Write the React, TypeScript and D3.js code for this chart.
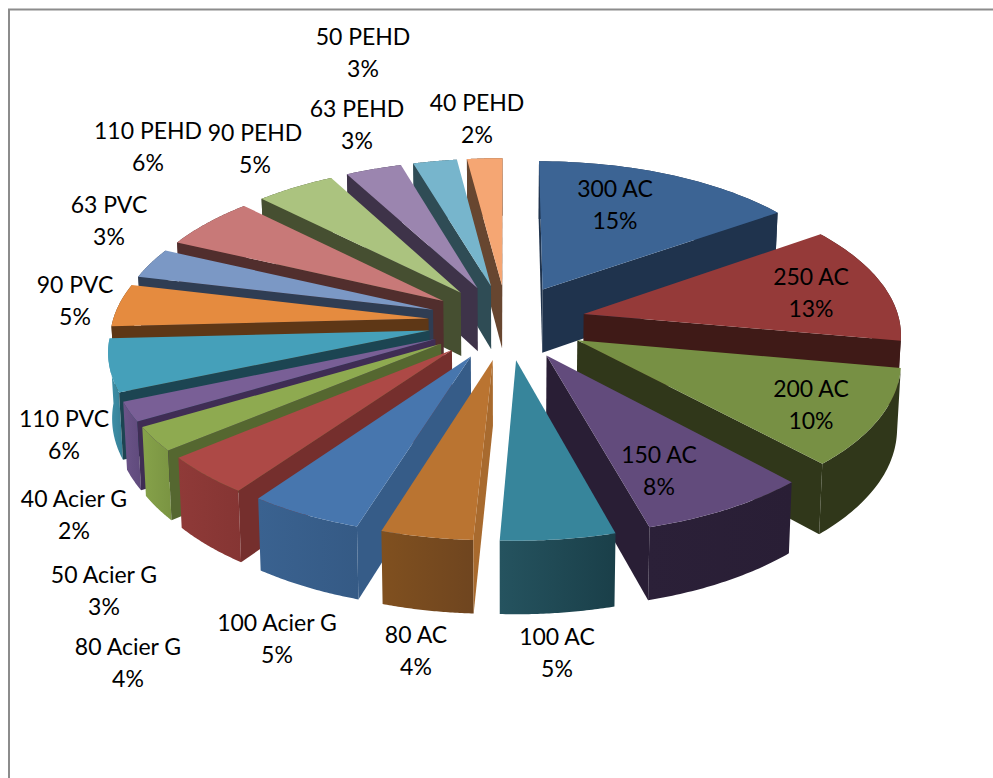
import React from "react";
import * as d3 from "d3";

// Share of each pipe type, in percent of the network length.
const categories = [
  "300 AC", "250 AC", "200 AC", "150 AC", "100 AC", "80 AC",
  "100 Acier G", "80 Acier G", "50 Acier G", "40 Acier G",
  "110 PVC", "90 PVC", "63 PVC",
  "110 PEHD", "90 PEHD", "63 PEHD", "50 PEHD", "40 PEHD",
];
const shares = [
  15.3, 12.56, 10.28, 7.61, 5.08, 4.08,
  5.06, 4.14, 2.56, 2.06,
  5.56, 4.53, 3.22,
  5.56, 4.64, 3.28, 2.56, 2.06,
];

// Face colours, one per slice.
const topColors = [
  "#3c6494", "#953a39", "#779044", "#624b7c", "#37859b", "#ba7431",
  "#4776ae", "#ad4946", "#8eaa50", "#795f96",
  "#45a0ba", "#e58b3f", "#7b98c5",
  "#c87978", "#abc37f", "#9b85af", "#77b5cc", "#f5a673",
];
const sideColors = [
  "#1f334d", "#3f1a17", "#30371a", "#291e35", "#1c414b", "#a86a2e",
  "#365c88", "#752f2d", "#556730", "#3f2d54",
  "#1c4552", "#5e3716", "#2f3d53",
  "#512e2d", "#464f31", "#3e3349", "#2f4c55", "#674630",
];
const rimLeft = [
  "#1f334d", "#3f1a17", "#30371a", "#2b2038", "#25535f", "#80501f",
  "#3a6290", "#8f3a38", "#86a24a", "#6b5488",
  "#3f93ab", "#5e3716", "#2f3d53",
  "#512e2d", "#464f31", "#3e3349", "#2f4c55", "#674630",
];
const rimRight = [
  "#1f334d", "#3f1a17", "#30371a", "#291e35", "#1a3f49", "#6f451f",
  "#355a85", "#853533", "#7a9442", "#5f4a7c",
  "#378096", "#5e3716", "#2f3d53",
  "#512e2d", "#464f31", "#3e3349", "#2f4c55", "#674630",
];

// Centre of each two-line label, indexed like the categories.
const labelCentres: [number, number][] = [
  [615, 189], [811, 277], [811, 389], [659, 455], [557, 637], [416, 635],
  [277, 623], [128, 647], [104, 575], [74, 499],
  [64, 419], [75, 285], [109, 205],
  [148, 131], [255, 133], [357, 109], [363, 37], [477, 103],
];

const WIDTH = 993;
const HEIGHT = 778;

// Perspective of the pie plane: unit radius, Y pointing away from the viewer.
const CX = 507;
const CY = 322;
const SCALE_X = 316;
const SCALE_Y = 150;
const KEYSTONE = 0.115;
const EXPLODE = 0.25;
const THICKNESS = 64.5;
const BOTTOM_SHRINK = 0.99;

type Pt = [number, number];

const persp = (Y: number) => 1 / (1 + KEYSTONE * Y);

const topPoint = (X: number, Y: number): Pt => {
  const s = persp(Y);
  return [CX + SCALE_X * X * s, CY - SCALE_Y * Y * s];
};

const bottomPoint = (X: number, Y: number): Pt => {
  const [x, y] = topPoint(X, Y);
  return [
    CX + (x - CX) * BOTTOM_SHRINK,
    y + THICKNESS * Math.pow(persp(Y), 0.85),
  ];
};

const linePath = d3.line<Pt>().x((d) => d[0]).y((d) => d[1]);
const closed = (pts: Pt[]) => linePath(pts) + "Z";

const pie = d3.pie<number>().sort(null).startAngle(0).endAngle(2 * Math.PI);

interface SliceGeometry {
  index: number;
  depth: number;
  top: string;
  rim: string;
  faces: string[];
}

const arcs = pie(shares);
const total = d3.sum(shares);

const slices: SliceGeometry[] = arcs.map((arc, index) => {
  const mid = (arc.startAngle + arc.endAngle) / 2;
  const ox = EXPLODE * Math.sin(mid);
  const oy = EXPLODE * Math.cos(mid);
  const steps = d3.range(0, 41).map(
    (i) => arc.startAngle + ((arc.endAngle - arc.startAngle) * i) / 40
  );
  const outer: Pt[] = steps.map((a) => [ox + Math.sin(a), oy + Math.cos(a)]);

  const topArc = outer.map(([x, y]) => topPoint(x, y));
  const bottomArc = outer.map(([x, y]) => bottomPoint(x, y));
  const apexTop = topPoint(ox, oy);
  const apexBottom = bottomPoint(ox, oy);

  // Radial walls: keep the ones whose winding shows they are turned to the viewer.
  const wallStart: Pt[] = [apexTop, topArc[0], bottomArc[0], apexBottom];
  const wallEnd: Pt[] = [
    apexBottom,
    bottomArc[bottomArc.length - 1],
    topArc[topArc.length - 1],
    apexTop,
  ];
  const faces = [wallStart, wallEnd]
    .filter((q) => d3.polygonArea(q) > 0)
    .map(closed);

  return {
    index,
    depth: oy + Math.cos(mid),
    top: closed([apexTop, ...topArc]),
    rim: closed([...topArc, ...bottomArc.slice().reverse()]),
    faces,
  };
});

// Paint from the far side of the pie to the near side.
const paintOrder = slices.slice().sort((a, b) => d3.descending(a.depth, b.depth));

const percentLabel = (v: number) => `${Math.round((v / total) * 100)}%`;

export default function App() {
  return (
    <svg
      width={WIDTH}
      height={HEIGHT}
      style={{ position: "absolute", left: 0, top: 0, background: "#fff" }}
      fontFamily="Lato, 'Open Sans', sans-serif"
    >
      <defs>
        {categories.map((_, i) => (
          <linearGradient key={i} id={`rim-${i}`} x1="0" x2="1" y1="0" y2="0">
            <stop offset="0" stopColor={rimLeft[i]} />
            <stop offset="1" stopColor={rimRight[i]} />
          </linearGradient>
        ))}
      </defs>

      {/* Chart frame: only the top and left edges are in view */}
      <path d={`M${WIDTH},9.5H9V${HEIGHT}`} fill="none" stroke="#8c8c8c" strokeWidth={2} />

      {paintOrder.map((s) => (
        <g key={s.index}>
          <path d={s.rim} fill={`url(#rim-${s.index})`} />
          {s.faces.map((d, j) => (
            <path key={j} d={d} fill={sideColors[s.index]} />
          ))}
          <path d={s.top} fill={topColors[s.index]} />
        </g>
      ))}

      {categories.map((name, i) => (
        <g key={name} fontSize={23} fill="#000" textAnchor="middle">
          <text x={labelCentres[i][0]} y={labelCentres[i][1]} dy="0.36em">
            {name}
          </text>
          <text x={labelCentres[i][0]} y={labelCentres[i][1] + 32} dy="0.36em">
            {percentLabel(shares[i])}
          </text>
        </g>
      ))}
    </svg>
  );
}
